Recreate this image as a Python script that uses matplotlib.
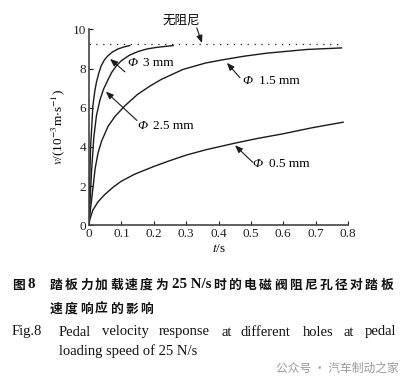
import matplotlib
matplotlib.use('Agg')
import matplotlib.pyplot as plt

plt.rcParams['font.family'] = ['Liberation Serif', 'Noto Sans CJK SC']
plt.rcParams['mathtext.fontset'] = 'stix'

# curves: t (s), v (1e-3 m/s)
t_3 = [0, 0.002, 0.005, 0.012, 0.018, 0.023, 0.03, 0.038, 0.048, 0.059,
       0.073, 0.09, 0.108, 0.126]
v_3 = [0, 2.2, 4.0, 6.1, 6.85, 7.3, 7.75, 8.15, 8.45, 8.66,
       8.85, 9.0, 9.1, 9.17]
t_25 = [0, 0.004, 0.008, 0.015, 0.023, 0.034, 0.045, 0.058, 0.07, 0.085,
        0.1, 0.125, 0.152, 0.18, 0.21, 0.26]
v_25 = [0, 1.5, 2.8, 4.5, 5.6, 6.4, 6.95, 7.4, 7.8, 8.15,
        8.4, 8.68, 8.87, 9.0, 9.08, 9.17]
t_15 = [0, 0.003, 0.008, 0.019, 0.028, 0.039, 0.059, 0.08, 0.111, 0.15,
        0.188, 0.224, 0.29, 0.36, 0.415, 0.48, 0.548, 0.672, 0.78]
v_15 = [0, 0.6, 1.3, 2.9, 3.7, 4.3, 5.05, 5.55, 6.1, 6.68,
        7.1, 7.45, 7.95, 8.28, 8.45, 8.63, 8.78, 8.97, 9.05]
t_05 = [0, 0.002, 0.012, 0.028, 0.048, 0.075, 0.1, 0.14, 0.2, 0.25,
        0.3, 0.36, 0.445, 0.52, 0.6, 0.69, 0.785]
v_05 = [0, 0.27, 0.78, 1.2, 1.56, 1.95, 2.25, 2.6, 3.0, 3.3,
        3.58, 3.85, 4.17, 4.43, 4.67, 4.98, 5.26]
v_undamped = 9.25
t_undamped_end = 0.78

xticks = [0, 0.1, 0.2, 0.3, 0.4, 0.5, 0.6, 0.7, 0.8]
yticks = [0, 2, 4, 6, 8, 10]

W, H = 412, 386
fig = plt.figure(figsize=(W / 100, H / 100), dpi=100)
ax = fig.add_axes([89 / W, 1 - 225.3 / H, 259 / W, 196 / H])

lc = '#1a1a1a'
for t, v in [(t_3, v_3), (t_25, v_25), (t_15, v_15), (t_05, v_05)]:
    ax.plot(t, v, color=lc, lw=1.0, solid_joinstyle='round')
ax.plot([0, t_undamped_end], [v_undamped, v_undamped], color=lc, lw=0.9,
        linestyle=(0, (1, 4.5)))

ax.set_xlim(0, 0.8)
ax.set_ylim(0, 10)
ax.set_xticks(xticks)
ax.set_xticklabels(['0' if x == 0 else f'{x:g}' for x in xticks])
ax.set_yticks(yticks)
ax.tick_params(direction='in', length=3, width=0.8, labelsize=9.5, pad=2,
               colors='#222222')
for s in ['top', 'right']:
    ax.spines[s].set_visible(False)
for s in ['left', 'bottom']:
    ax.spines[s].set_linewidth(1.2)
    ax.spines[s].set_color('#444444')

ax.set_xlabel(r'$\mathit{t}$/s', fontsize=9.5, labelpad=2)
ax.set_ylabel(r'$\mathit{v}$/(10$^{-3}$m$\cdot$s$^{-1}$)', fontsize=9.5, labelpad=4)

arrow = dict(arrowstyle='-|>,head_length=0.45,head_width=0.18', color=lc, lw=0.8,
             shrinkA=0, shrinkB=0)
# (label, text pos, arrow tail, arrow head)
notes = [
    ('3 mm', (0.117, 8.28), (0.111, 7.83), (0.065, 8.49)),
    ('2.5 mm', (0.148, 5.09), (0.148, 5.35), (0.052, 6.82)),
    ('1.5 mm', (0.475, 7.37), (0.466, 7.53), (0.426, 8.29)),
    ('0.5 mm', (0.506, 3.11), (0.506, 3.21), (0.451, 4.08)),
]
for txt, tp, tail, head in notes:
    ax.annotate('', xy=head, xytext=tail, arrowprops=arrow, annotation_clip=False)
    ax.text(tp[0], tp[1], 'Φ', fontsize=9.5, style='italic', va='center', ha='left')
    ax.annotate(txt, xy=tp, xytext=(11.5, 0), textcoords='offset points',
                fontsize=9.5, va='center', ha='left')

ax.annotate('', xy=(0.349, 9.3), xytext=(0.333, 10.07), arrowprops=arrow,
            annotation_clip=False)
ax.text(0.284, 10.47, '无阻尼', fontsize=9, ha='center', va='center',
        family=['Noto Sans CJK SC'], clip_on=False)


def px(x, y):
    return x / W, 1 - y / H


def spaced(chars, x0, y, pitch, **kw):
    for i, c in enumerate(chars):
        fig.text(*px(x0 + i * pitch, y), c, va='center', ha='left', **kw)


cjk = dict(family=['Noto Sans CJK SC'], fontsize=9.2, weight='bold', color='#111111')
ser = dict(family=['Liberation Serif'], fontsize=10.8, weight='bold', color='#111111')

fig.text(*px(12, 285), '图', va='center', ha='left', **cjk)
fig.text(*px(27, 285), '8', va='center', ha='left', **ser)
spaced('踏板力加载速度为', 50, 285, 15.0, **cjk)
fig.text(*px(172, 285), '25 N/s', va='center', ha='left', **ser)
spaced('时的电磁阀阻尼孔径对踏板', 213, 285, 15.2, **cjk)
spaced('速度响应的影响', 50, 309, 15.0, **cjk)

eng = dict(family=['Liberation Serif'], fontsize=10.5, color='#111111')
fig.text(*px(12, 332), 'Fig.8', va='center', ha='left', **eng)
words = ['Pedal', 'velocity', 'response', 'at', 'different', 'holes', 'at', 'pedal']
word_x = [59, 102, 159, 221, 241, 303, 343, 365]
for w, x in zip(words, word_x):
    fig.text(*px(x, 332), w, va='center', ha='left', **eng)
fig.text(*px(59, 351), 'loading speed of 25 N/s', va='center', ha='left', **eng)

fig.text(*px(276, 368), '公众号 · 汽车制动之家', va='center', ha='left',
         family=['Noto Sans CJK SC'], fontsize=8.5, color='#9a9a9a')

fig.savefig('out.png', dpi=100)
